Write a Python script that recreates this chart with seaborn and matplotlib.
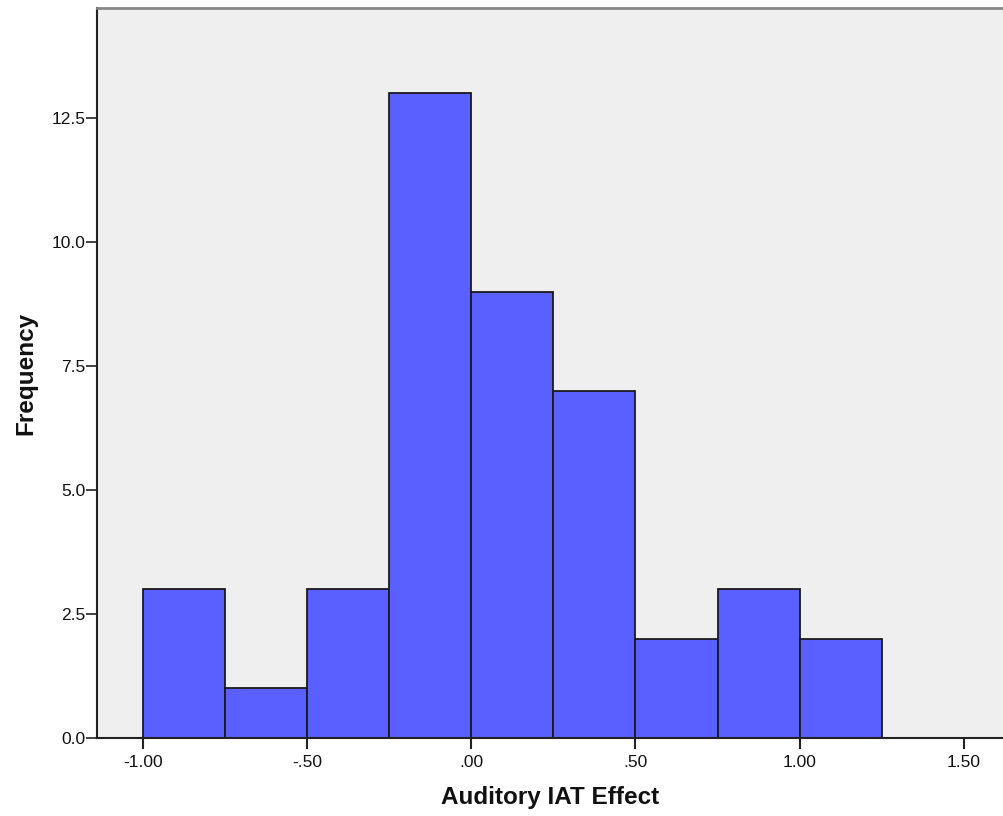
import numpy as np
import pandas as pd
import matplotlib
matplotlib.use("Agg")
import matplotlib.pyplot as plt
import seaborn as sns

# histogram: bins of width .25 starting at -1.00
bin_edges = [-1.00, -0.75, -0.50, -0.25, 0.00, 0.25, 0.50, 0.75, 1.00, 1.25]
counts = [3, 1, 3, 13, 9, 7, 2, 3, 2]
x_ticks = [-1.0, -0.5, 0.0, 0.5, 1.0, 1.5]
x_tick_labels = ["-1.00", "-.50", ".00", ".50", "1.00", "1.50"]
y_ticks = [0.0, 2.5, 5.0, 7.5, 10.0, 12.5]

df = pd.DataFrame({
    "effect": [(a + b) / 2 for a, b in zip(bin_edges[:-1], bin_edges[1:])],
    "n": counts,
})

sns.set_style("white")
plt.rcParams['font.family'] = ['Liberation Sans', 'DejaVu Sans']

fig = plt.figure(figsize=(10.04, 8.16), dpi=100)
ax = fig.add_axes([0.0966, 0.0956, 0.9034, 0.8944])
ax.set_facecolor("#efefef")

sns.histplot(data=df, x="effect", weights="n", bins=bin_edges, ax=ax,
             color="#5a5fff", alpha=1, edgecolor="#1a1a1a", linewidth=1.3)

ax.set_xlim(-1.139, 1.622)
ax.set_ylim(0, 14.72)
ax.set_xticks(x_ticks)
ax.set_xticklabels(x_tick_labels)
ax.set_yticks(y_ticks)
ax.set_yticklabels([f"{v:.1f}" for v in y_ticks])
ax.tick_params(axis="x", bottom=True, direction="out", length=8, width=1.5,
               labelsize=12.5, pad=4, color="#222222", labelcolor="#111111")
ax.tick_params(axis="y", left=True, direction="out", length=8, width=1.2,
               labelsize=12.5, pad=0.5, color="#222222", labelcolor="#111111")

for s in ["left", "bottom"]:
    ax.spines[s].set_color("#222222")
    ax.spines[s].set_linewidth(1.5)
ax.spines["top"].set_color("#888888")
ax.spines["top"].set_linewidth(2)
ax.spines["right"].set_visible(False)

ax.set_xlabel("Auditory IAT Effect", fontsize=17.5, fontweight="bold", labelpad=12, color="#111111")
ax.set_ylabel("Frequency", fontsize=17.5, fontweight="bold", labelpad=10, color="#111111")

fig.savefig("out.png", dpi=100)
